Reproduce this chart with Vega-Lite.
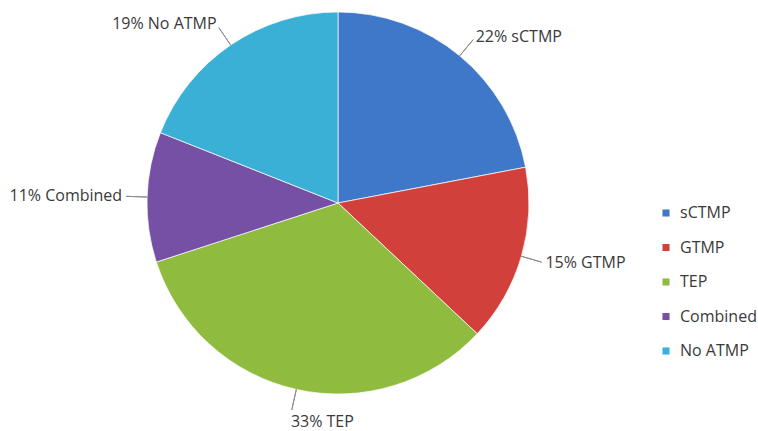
{
  "$schema": "https://vega.github.io/schema/vega-lite/v6.json",
  "width": 666,
  "height": 396,
  "padding": 5,
  "background": "white",
  "config": {"view": {"stroke": null}, "text": {"font": "Open Sans"}},
  "data": {"values": [
    {"cat": "sCTMP", "value": 22, "order": 1, "label": "22% sCTMP"},
    {"cat": "GTMP", "value": 15, "order": 2, "label": "15% GTMP"},
    {"cat": "TEP", "value": 33, "order": 3, "label": "33% TEP"},
    {"cat": "Combined", "value": 11, "order": 4, "label": "11% Combined"},
    {"cat": "No ATMP", "value": 19, "order": 5, "label": "19% No ATMP"}
  ]},
  "transform": [
    {"stack": "value", "groupby": [], "sort": [{"field": "order"}], "as": ["v0", "v1"]},
    {"calculate": "(datum.v0 + datum.v1) / 2", "as": "mid"}
  ],
  "layer": [
    {
      "mark": {"type": "arc", "radius": 191, "stroke": "white", "strokeWidth": 1, "strokeOpacity": 0.7},
      "encoding": {
        "theta": {"field": "v0", "type": "quantitative", "scale": {"domain": [0, 100]}},
        "theta2": {"field": "v1"},
        "color": {
          "field": "cat", "type": "nominal",
          "scale": {"domain": ["sCTMP", "GTMP", "TEP", "Combined", "No ATMP"],
                    "range": ["#3f78c8", "#d2403c", "#8fbb3e", "#7550a5", "#3bb0d6"]},
          "legend": {
            "title": null, "orient": "none", "legendX": 653, "legendY": 200,
            "symbolType": "square", "symbolSize": 50, "symbolStrokeWidth": 0,
            "labelFont": "Open Sans", "labelFontSize": 16, "labelColor": "#3a3a3a",
            "rowPadding": 18.5, "padding": 0, "labelOffset": 6
          }
        }
      }
    },
    {
      "mark": {"type": "arc", "radius": 212, "radius2": 191, "stroke": "#8c8c8c", "strokeWidth": 1, "fill": "transparent"},
      "encoding": {
        "theta": {"field": "mid", "type": "quantitative"},
        "theta2": {"field": "mid"}
      }
    },
    {
      "transform": [{"filter": "datum.cat == 'sCTMP' || datum.cat == 'GTMP'"}],
      "mark": {"type": "text", "radius": 216, "align": "left", "baseline": "middle", "fontSize": 16, "color": "#3a3a3a"},
      "encoding": {
        "theta": {"field": "mid", "type": "quantitative"},
        "text": {"field": "label"}
      }
    },
    {
      "transform": [{"filter": "datum.cat == 'Combined' || datum.cat == 'No ATMP'"}],
      "mark": {"type": "text", "radius": 216, "align": "right", "baseline": "middle", "fontSize": 16, "color": "#3a3a3a"},
      "encoding": {
        "theta": {"field": "mid", "type": "quantitative"},
        "text": {"field": "label"}
      }
    },
    {
      "transform": [{"filter": "datum.cat == 'TEP'"}],
      "mark": {"type": "text", "radius": 216, "align": "left", "baseline": "top", "fontSize": 16, "color": "#3a3a3a"},
      "encoding": {
        "theta": {"field": "mid", "type": "quantitative"},
        "text": {"field": "label"}
      }
    }
  ]
}
